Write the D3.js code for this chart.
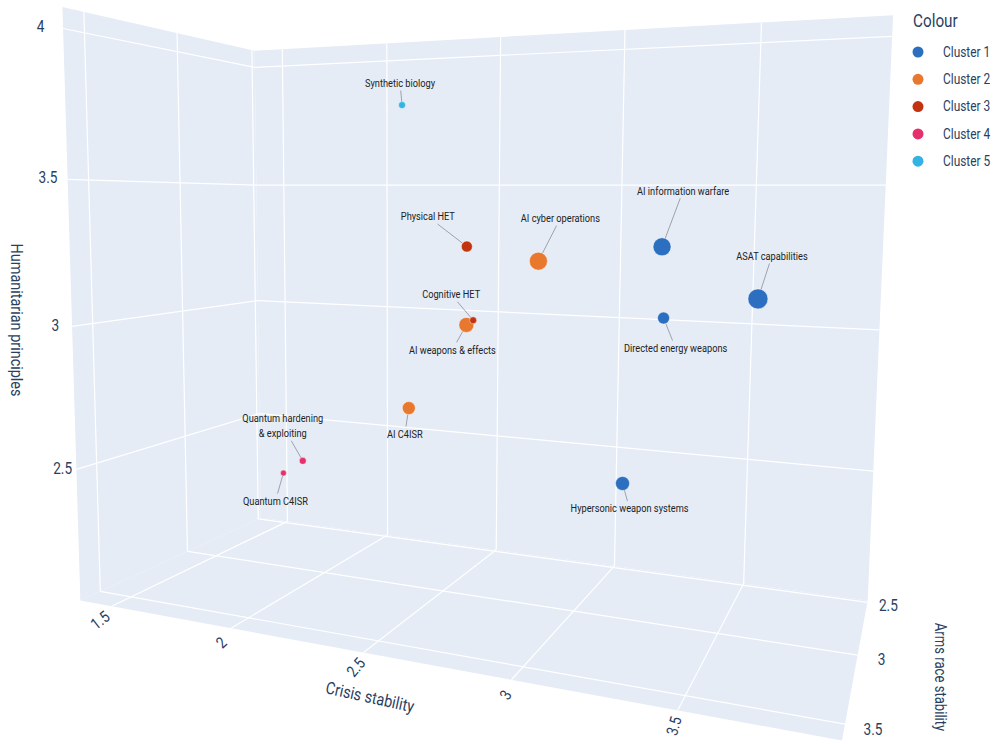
<!DOCTYPE html>
<html><head><meta charset="utf-8">
<script src="https://cdn.jsdelivr.net/npm/d3@7"></script>
<style>
body{margin:0;background:#fff;}
svg{display:block;}
text{font-family:Roboto,"Noto Sans",sans-serif;}
</style></head><body>
<svg id="c" width="995" height="744"></svg>
<script>
// ---------- data ----------
const technologies = ["Synthetic biology","Physical HET","AI cyber operations","AI information warfare","ASAT capabilities","Directed energy weapons","Cognitive HET","AI weapons & effects","AI C4ISR","Quantum hardening & exploiting","Quantum C4ISR","Hypersonic weapon systems"];
const clusterOf = [5,3,2,1,1,1,3,2,2,4,4,1];
const crisisStability = [2.13,2.50,2.89,3.33,3.64,3.27,2.57,2.50,2.31,1.72,1.56,3.22];
const armsRaceStability = [2.6,2.8,3.1,3.2,3.3,2.9,2.9,2.8,2.9,2.7,2.6,3.2];
const humanitarianPrinciples = [3.81,3.27,3.24,3.30,3.16,3.05,3.01,2.98,2.67,2.37,2.28,2.55];
const markerSize = [7,11,18,18,20,12,7,15,13,7,6,14];
const clusterNames = ["Cluster 1","Cluster 2","Cluster 3","Cluster 4","Cluster 5"];
const crisisTicks = [1.5,2,2.5,3,3.5];
const armsTicks = [2.5,3,3.5];
const humanTicks = [2.5,3,3.5,4];
const crisisRange = [1.36,3.94], armsRange = [2.48,3.6], humanRange = [2.03,4.07];

// ---------- layout / style ----------
const clusterColours = ["#2c6ec0","#e8782d","#c2340f","#e6306c","#33b3e3"];
// annotation offsets (text centre relative to marker), like plotly ax/ay
const labelOffsets = [[-2,-22],[-39,-30],[22,-43],[21,-56],[14,-43],[12,30],[-22,-26],[-14,25],[-4,26],[-20,-35],[-8,28],[7,25]];
// screen position of the scene box corners: [u(crisis),v(arms: back->front),w(humanitarian),sx,sy]
const sceneCorners = [
  [0,1,1,62,8],[0,0,1,255,50],[1,0,1,893,15],[1,0,0,867,601],
  [0,0,0,261,518],[0,1,0,80,600],[1,1,0,843,740]
];
const bg="#e5ecf6", tickCol="#2a3f5f";

function fitProjection(corr){
  const A=[],b=[];
  for(const [u,v,w,sx,sy] of corr){
    A.push([u,v,w,1,0,0,0,0,-sx*u,-sx*v,-sx*w]); b.push(sx);
    A.push([0,0,0,0,u,v,w,1,-sy*u,-sy*v,-sy*w]); b.push(sy);
  }
  const n=11, M=Array.from({length:n},()=>new Array(n+1).fill(0));
  for(let r=0;r<A.length;r++){for(let i=0;i<n;i++){for(let j=0;j<n;j++)M[i][j]+=A[r][i]*A[r][j];M[i][n]+=A[r][i]*b[r];}}
  for(let c=0;c<n;c++){
    let piv=c;for(let r=c+1;r<n;r++)if(Math.abs(M[r][c])>Math.abs(M[piv][c]))piv=r;
    [M[c],M[piv]]=[M[piv],M[c]];
    for(let r=0;r<n;r++){if(r===c)continue;const f=M[r][c]/M[c][c];for(let k=c;k<=n;k++)M[r][k]-=f*M[c][k];}
  }
  return M.map((row,i)=>row[n]/row[i]);
}
const P = fitProjection(sceneCorners);
function proj(u,v,w){const d=P[8]*u+P[9]*v+P[10]*w+1;return [(P[0]*u+P[1]*v+P[2]*w+P[3])/d,(P[4]*u+P[5]*v+P[6]*w+P[7])/d];}

const xS=d3.scaleLinear().domain(crisisRange).range([0,1]);
const yS=d3.scaleLinear().domain(armsRange).range([0,1]);
const zS=d3.scaleLinear().domain(humanRange).range([0,1]);

const svg=d3.select("#c");
const line=d3.line();
function poly(pts){return "M"+pts.map(p=>p.join(",")).join("L")+"Z";}
function txt(parent,x,y,str,o){
  o=Object.assign({size:14,sx:0.85,rot:0,anchor:"middle",fill:tickCol},o||{});
  return parent.append("text").attr("transform",`translate(${x},${y}) rotate(${o.rot}) scale(${o.sx},1)`)
    .attr("text-anchor",o.anchor).attr("dominant-baseline","central").attr("font-size",o.size).attr("fill",o.fill).text(str);
}
// walls
svg.append("path").attr("d",poly([proj(0,0,0),proj(1,0,0),proj(1,1,0),proj(0,1,0)])).attr("fill",bg);
svg.append("path").attr("d",poly([proj(0,0,0),proj(1,0,0),proj(1,0,1),proj(0,0,1)])).attr("fill",bg);
svg.append("path").attr("d",poly([proj(0,0,0),proj(0,1,0),proj(0,1,1),proj(0,0,1)])).attr("fill",bg);
// grid
const g=svg.append("g").attr("stroke","#fff").attr("stroke-width",1.2).attr("fill","none");
crisisTicks.forEach(t=>{const u=xS(t);
  g.append("path").attr("d",line([proj(u,0,0),proj(u,0,1)]));
  g.append("path").attr("d",line([proj(u,0,0),proj(u,1,0)]));});
armsTicks.forEach(t=>{const v=yS(t);
  g.append("path").attr("d",line([proj(0,v,0),proj(0,v,1)]));
  g.append("path").attr("d",line([proj(0,v,0),proj(1,v,0)]));});
humanTicks.forEach(t=>{const w=zS(t);
  g.append("path").attr("d",line([proj(0,0,w),proj(1,0,w)]));
  g.append("path").attr("d",line([proj(0,0,w),proj(0,1,w)]));});

// tick labels
crisisTicks.forEach(t=>{const u=xS(t);const a=proj(u,1,0),b=proj(u,0,0);
  const ang=Math.atan2(b[1]-a[1],b[0]-a[0])*180/Math.PI-12;
  txt(svg,a[0]-12+10*u,a[1]+14+2*u,t,{size:16,sx:0.85,rot:ang});});
armsTicks.forEach(t=>{const p=proj(1.03,yS(t),0);
  txt(svg,p[0]-2,p[1],t,{size:16,sx:0.85});});
humanTicks.forEach(t=>{const w=zS(t);const p=proj(0,1,w);
  txt(svg,p[0]-11-12*w,p[1]-2*w,t,{size:16,sx:0.85});});
// axis titles
{const a=proj(0,1,0),b=proj(1,1,0);const ang=Math.atan2(b[1]-a[1],b[0]-a[0])*180/Math.PI+2;
 txt(svg,370,697,"Crisis stability",{size:17,sx:0.85,rot:ang});}
txt(svg,17,320,"Humanitarian principles",{size:17,sx:0.85,rot:90});
txt(svg,940,677,"Arms race stability",{size:16,sx:0.82,rot:90});

// points + annotations
const pts=technologies.map((n,i)=>proj(xS(crisisStability[i]),yS(armsRaceStability[i]),zS(humanitarianPrinciples[i])));
const ann=svg.append("g");
technologies.forEach((n,i)=>{
  const p=pts[i],o=labelOffsets[i],c=[p[0]+o[0],p[1]+o[1]];
  const lines=n==="Quantum hardening & exploiting"?["Quantum hardening","& exploiting"]:[n];
  const t=ann.append("text").attr("text-anchor","middle").attr("font-size",11).attr("fill","#222")
    .attr("transform",`translate(${c[0]},${c[1]}) scale(0.84,1)`);
  lines.forEach((l,k)=>t.append("tspan").attr("x",0).attr("y",(k-(lines.length-1)/2)*15).attr("dominant-baseline","central").text(l));
  const hw=d3.max(t.selectAll("tspan").nodes(),nd=>nd.getComputedTextLength())*0.84/2+1, hh=lines.length*7.5;
  const dx=p[0]-c[0],dy=p[1]-c[1],L=Math.hypot(dx,dy);
  const tb=Math.min(Math.abs(dx)>0?hw/Math.abs(dx):1e9,Math.abs(dy)>0?hh/Math.abs(dy):1e9);
  const e=[c[0]+dx*tb,c[1]+dy*tb], r=markerSize[i]/2;
  const s=[p[0]-dx/L*r,p[1]-dy/L*r];
  if(tb<1) ann.insert("path","text").attr("d",line([e,s])).attr("stroke","#8a8f98").attr("stroke-width",0.8).attr("fill","none");
});
const order=d3.range(technologies.length).sort((a,b)=>armsRaceStability[a]-armsRaceStability[b]);
const mk=svg.insert("g",()=>ann.node());
order.forEach(i=>{mk.append("circle").attr("cx",pts[i][0]).attr("cy",pts[i][1]).attr("r",markerSize[i]/2)
  .attr("fill",clusterColours[clusterOf[i]-1]).attr("stroke","#fff").attr("stroke-opacity",0.45).attr("stroke-width",1);});

// legend
txt(svg,913,21,"Colour",{size:18,sx:0.85,anchor:"start",fill:"#2a3f5f"});
clusterNames.forEach((n,i)=>{svg.append("circle").attr("cx",918).attr("cy",52+i*27.3).attr("r",5.5).attr("fill",clusterColours[i]);
  txt(svg,943,52+i*27.3,n,{size:14,sx:0.85,anchor:"start",fill:"#2a3f5f"});});
</script></body></html>
